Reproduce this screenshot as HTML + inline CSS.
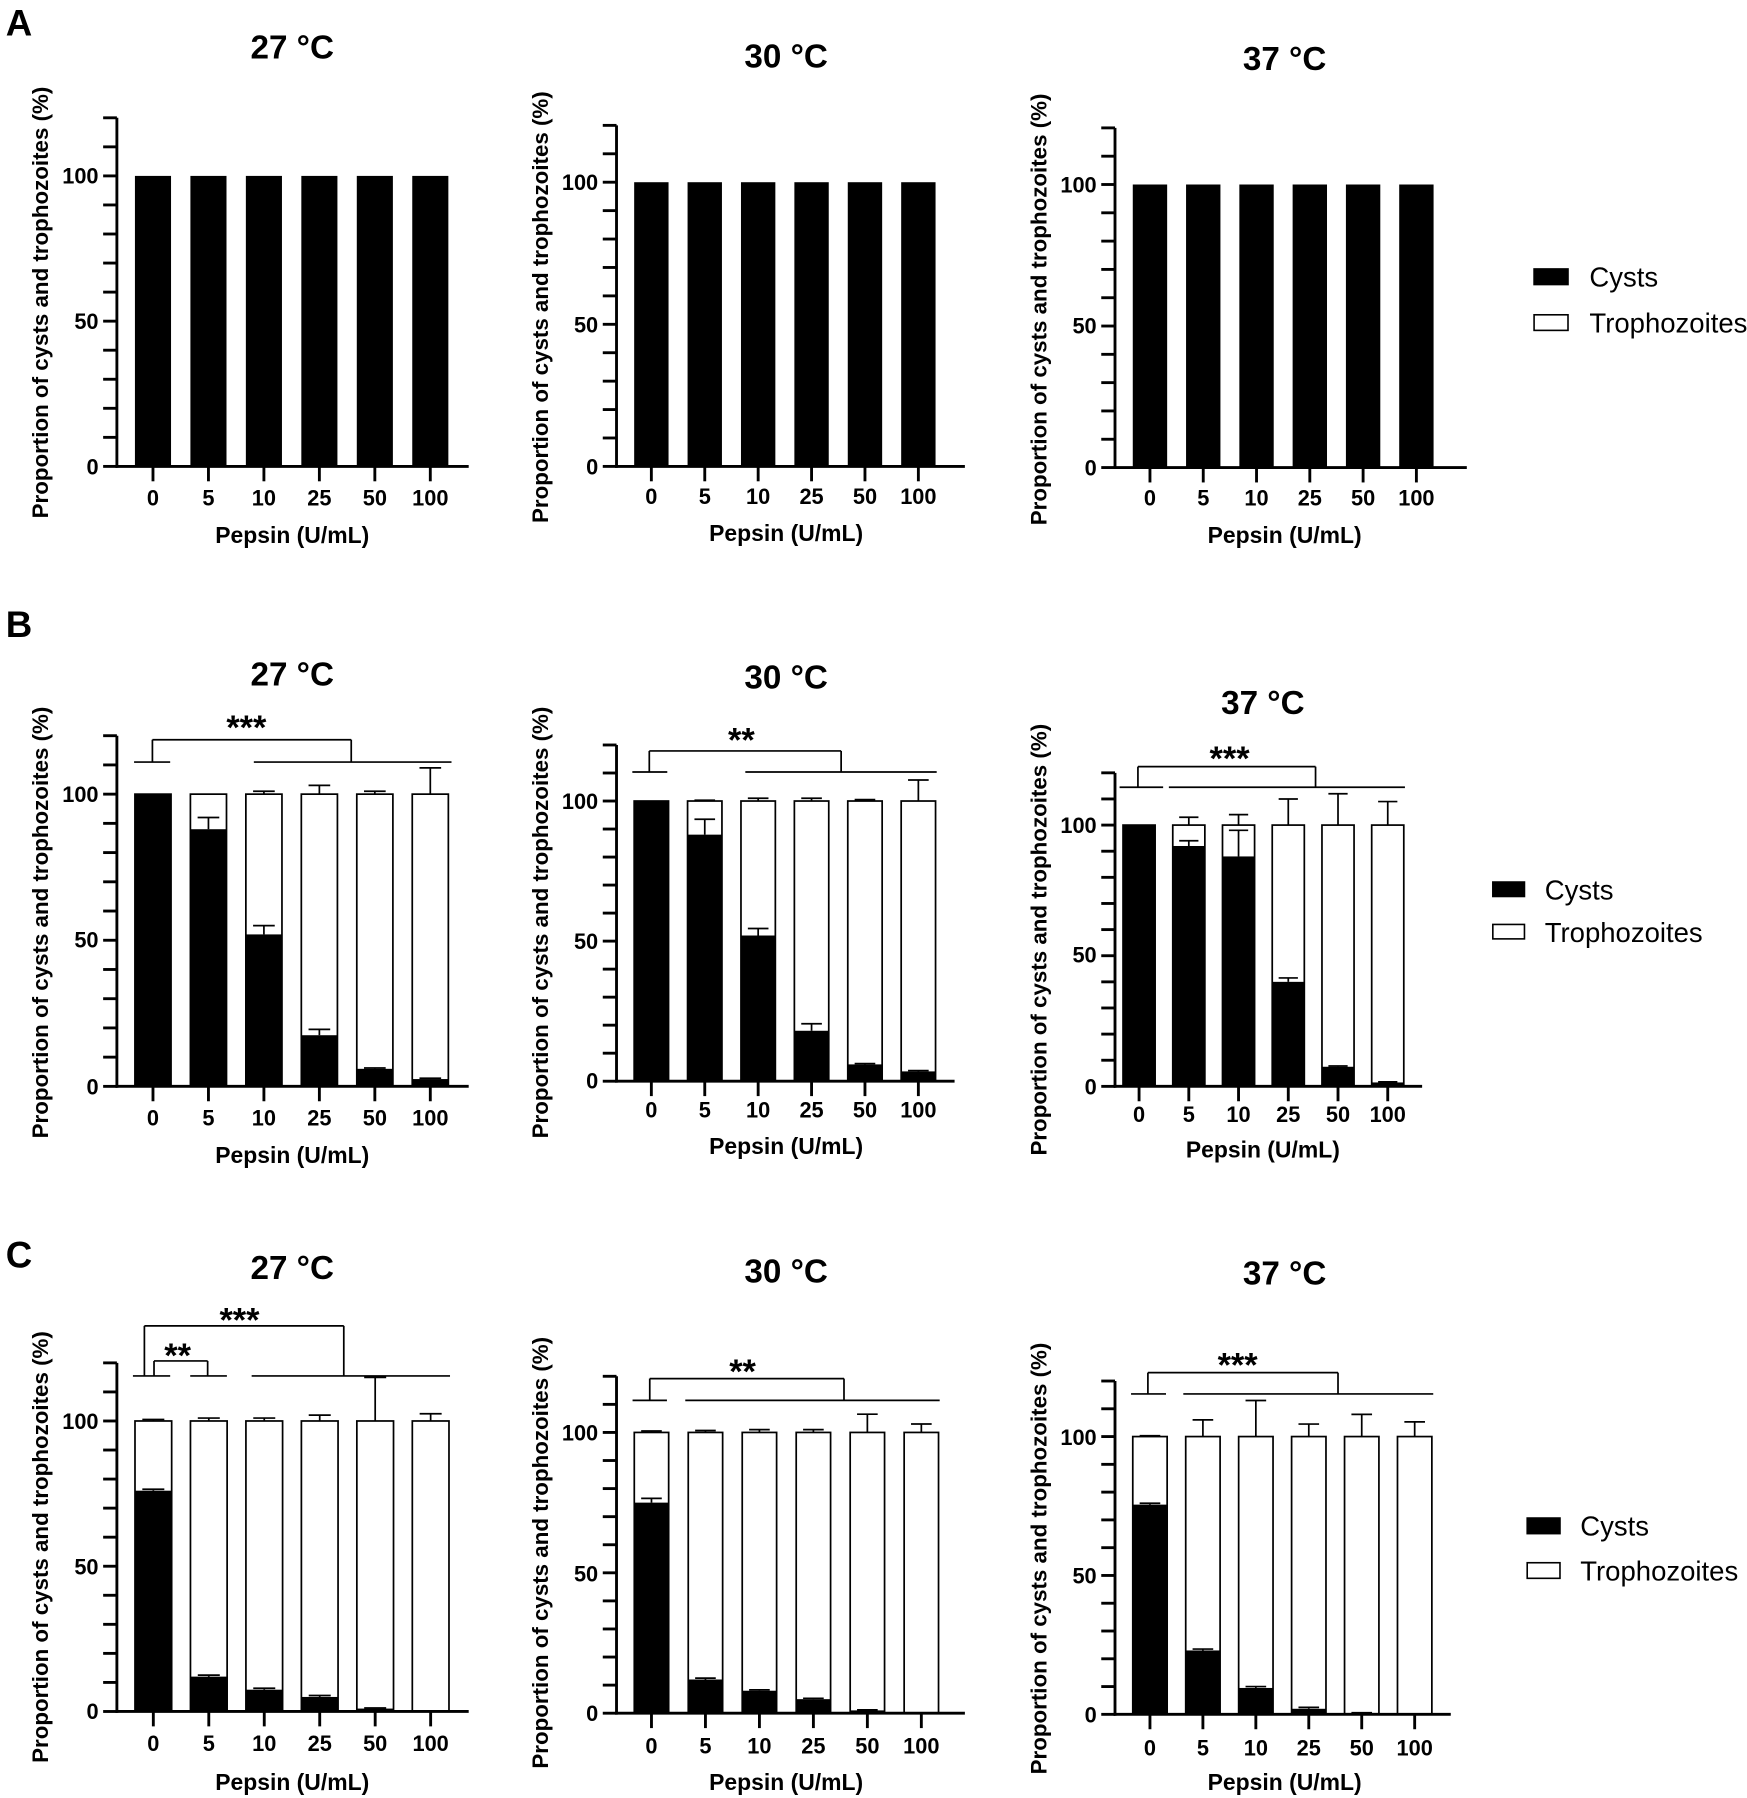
<!DOCTYPE html>
<html><head><meta charset="utf-8"><style>
html,body{margin:0;padding:0;background:#fff}
svg{display:block}
text{font-family:"Liberation Sans",Arial,sans-serif;fill:#000}
.t{font-size:29px;font-weight:bold;text-anchor:middle}
.xl{font-size:20px;font-weight:bold;text-anchor:middle}
.tk{font-size:19px;font-weight:bold;text-anchor:middle}
.yt{font-size:19px;font-weight:bold;text-anchor:end}
.yl{font-size:19.5px;font-weight:bold;text-anchor:middle}
.lg{font-size:24px}
.pl{font-size:32px;font-weight:bold}
.st{font-size:30px;font-weight:bold;text-anchor:middle}
</style></head><body>
<svg id="s" width="1747" height="1798" viewBox="0 0 1524.5 1569" xmlns="http://www.w3.org/2000/svg">
<g id="g"></g>
<text class="pl" x="5" y="31">A</text>
<text class="pl" x="5" y="556">B</text>
<text class="pl" x="5" y="1106">C</text>

<text class="t" x="255" y="51">27 °C</text>
<text class="t" x="686" y="59">30 °C</text>
<text class="t" x="1121" y="61">37 °C</text>
<text class="t" x="255" y="598">27 °C</text>
<text class="t" x="686" y="601">30 °C</text>
<text class="t" x="1102" y="623">37 °C</text>
<text class="t" x="255" y="1116">27 °C</text>
<text class="t" x="686" y="1119">30 °C</text>
<text class="t" x="1121" y="1121">37 °C</text>

<text class="xl" x="255" y="474">Pepsin (U/mL)</text>
<text class="xl" x="686" y="472">Pepsin (U/mL)</text>
<text class="xl" x="1121" y="474">Pepsin (U/mL)</text>
<text class="xl" x="255" y="1015">Pepsin (U/mL)</text>
<text class="xl" x="686" y="1007">Pepsin (U/mL)</text>
<text class="xl" x="1102" y="1010">Pepsin (U/mL)</text>
<text class="xl" x="255" y="1562">Pepsin (U/mL)</text>
<text class="xl" x="686" y="1562">Pepsin (U/mL)</text>
<text class="xl" x="1121" y="1562">Pepsin (U/mL)</text>

<text class="tk" y="441"><tspan x="133.5">0</tspan><tspan x="181.9">5</tspan><tspan x="230.3">10</tspan><tspan x="278.7">25</tspan><tspan x="327.1">50</tspan><tspan x="375.5">100</tspan></text>
<text class="tk" y="440"><tspan x="568.4">0</tspan><tspan x="615">5</tspan><tspan x="661.6">10</tspan><tspan x="708.2">25</tspan><tspan x="754.8">50</tspan><tspan x="801.4">100</tspan></text>
<text class="tk" y="441"><tspan x="1003.5">0</tspan><tspan x="1050">5</tspan><tspan x="1096.5">10</tspan><tspan x="1143">25</tspan><tspan x="1189.5">50</tspan><tspan x="1236">100</tspan></text>
<text class="tk" y="982"><tspan x="133.5">0</tspan><tspan x="181.9">5</tspan><tspan x="230.3">10</tspan><tspan x="278.7">25</tspan><tspan x="327.1">50</tspan><tspan x="375.5">100</tspan></text>
<text class="tk" y="975"><tspan x="568.4">0</tspan><tspan x="615">5</tspan><tspan x="661.6">10</tspan><tspan x="708.2">25</tspan><tspan x="754.8">50</tspan><tspan x="801.4">100</tspan></text>
<text class="tk" y="979"><tspan x="994">0</tspan><tspan x="1037.4">5</tspan><tspan x="1080.8">10</tspan><tspan x="1124.2">25</tspan><tspan x="1167.6">50</tspan><tspan x="1211">100</tspan></text>
<text class="tk" y="1528"><tspan x="133.8">0</tspan><tspan x="182.2">5</tspan><tspan x="230.6">10</tspan><tspan x="279">25</tspan><tspan x="327.4">50</tspan><tspan x="375.8">100</tspan></text>
<text class="tk" y="1530"><tspan x="568.5">0</tspan><tspan x="615.6">5</tspan><tspan x="662.7">10</tspan><tspan x="709.8">25</tspan><tspan x="756.9">50</tspan><tspan x="804">100</tspan></text>
<text class="tk" y="1532"><tspan x="1003.5">0</tspan><tspan x="1049.7">5</tspan><tspan x="1095.9">10</tspan><tspan x="1142.1">25</tspan><tspan x="1188.3">50</tspan><tspan x="1234.5">100</tspan></text>

<text class="yt" x="86" y="414">0</text><text class="yt" x="86" y="287">50</text><text class="yt" x="86" y="160">100</text>
<text class="yt" x="522" y="414">0</text><text class="yt" x="522" y="290">50</text><text class="yt" x="522" y="166">100</text>
<text class="yt" x="957" y="415">0</text><text class="yt" x="957" y="291">50</text><text class="yt" x="957" y="168">100</text>
<text class="yt" x="86" y="955">0</text><text class="yt" x="86" y="827">50</text><text class="yt" x="86" y="700">100</text>
<text class="yt" x="522" y="950">0</text><text class="yt" x="522" y="828">50</text><text class="yt" x="522" y="706">100</text>
<text class="yt" x="957" y="955">0</text><text class="yt" x="957" y="840">50</text><text class="yt" x="957" y="727">100</text>
<text class="yt" x="86" y="1500">0</text><text class="yt" x="86" y="1374">50</text><text class="yt" x="86" y="1247">100</text>
<text class="yt" x="522" y="1502">0</text><text class="yt" x="522" y="1380">50</text><text class="yt" x="522" y="1257">100</text>
<text class="yt" x="957" y="1503">0</text><text class="yt" x="957" y="1382">50</text><text class="yt" x="957" y="1261">100</text>

<text class="yl" transform="translate(42,264) rotate(-90)">Proportion of cysts and trophozoites (%)</text>
<text class="yl" transform="translate(478,268) rotate(-90)">Proportion of cysts and trophozoites (%)</text>
<text class="yl" transform="translate(913,270) rotate(-90)">Proportion of cysts and trophozoites (%)</text>
<text class="yl" transform="translate(42,805) rotate(-90)">Proportion of cysts and trophozoites (%)</text>
<text class="yl" transform="translate(478,805) rotate(-90)">Proportion of cysts and trophozoites (%)</text>
<text class="yl" transform="translate(913,820) rotate(-90)">Proportion of cysts and trophozoites (%)</text>
<text class="yl" transform="translate(42,1350) rotate(-90)">Proportion of cysts and trophozoites (%)</text>
<text class="yl" transform="translate(478,1355) rotate(-90)">Proportion of cysts and trophozoites (%)</text>
<text class="yl" transform="translate(913,1360) rotate(-90)">Proportion of cysts and trophozoites (%)</text>

<text class="st" x="215" y="645">***</text>
<text class="st" x="647" y="656">**</text>
<text class="st" x="1073" y="672">***</text>
<text class="st" x="209" y="1162">***</text>
<text class="st" x="155" y="1193">**</text>
<text class="st" x="648" y="1207">**</text>
<text class="st" x="1080" y="1201">***</text>

<rect x="1338" y="234" width="31" height="15" fill="#000"/>
<rect x="1338.7" y="274.7" width="29.6" height="13.6" fill="#fff" stroke="#000" stroke-width="1.4"/>
<text class="lg" x="1387" y="250">Cysts</text>
<text class="lg" x="1387" y="290">Trophozoites</text>
<rect x="1302" y="769" width="29" height="14" fill="#000"/>
<rect x="1302.7" y="806.7" width="27.6" height="12.6" fill="#fff" stroke="#000" stroke-width="1.4"/>
<text class="lg" x="1348" y="785">Cysts</text>
<text class="lg" x="1348" y="822">Trophozoites</text>
<rect x="1332" y="1324" width="30" height="15" fill="#000"/>
<rect x="1332.7" y="1363.7" width="28.6" height="13.6" fill="#fff" stroke="#000" stroke-width="1.4"/>
<text class="lg" x="1379" y="1340">Cysts</text>
<text class="lg" x="1379" y="1379">Trophozoites</text>
</svg>
<script>
var g=document.getElementById('g'),NS='http://www.w3.org/2000/svg';
function el(t,a){var e=document.createElementNS(NS,t);for(var k in a)e.setAttribute(k,a[k]);g.appendChild(e);return e;}
function ln(x1,y1,x2,y2,w){el('line',{x1:x1,y1:y1,x2:x2,y2:y2,stroke:'#000','stroke-width':w||1.5});}
var P=[
{ax:102,y0:407,y100:153.5,xe:409,c0:133.5,sp:48.4,bw:31.5,cy:[100,100,100,100,100,100],st:0},
{ax:538,y0:407,y100:159,xe:842,c0:568.4,sp:46.6,bw:30,cy:[100,100,100,100,100,100],st:0},
{ax:973,y0:408,y100:161,xe:1280,c0:1003.5,sp:46.5,bw:30,cy:[100,100,100,100,100,100],st:0},
{ax:102,y0:948,y100:693,xe:409,c0:133.5,sp:48.4,bw:31.5,cy:[100,88,52,17.5,6,2.5],ce:[0,92,55,19.5,6.3,2.8],te:[0,100.2,101,103,101,109],st:1},
{ax:538,y0:943.5,y100:699,xe:833,c0:568.4,sp:46.6,bw:30,cy:[100,88,52,18,6,3.5],ce:[0,93.5,54.5,20.5,6.3,3.8],te:[0,100.3,101,101,100.5,107.5],st:1},
{ax:973,y0:948,y100:720,xe:1241,c0:994,sp:43.4,bw:28,cy:[100,92,88,40,7.5,1.5],ce:[0,94,98,41.5,7.8,1.7],te:[0,103,104,110,112,109],st:1},
{ax:102,y0:1493.5,y100:1240,xe:409,c0:133.8,sp:48.4,bw:32,cy:[76,12,7.5,5,1,0.3],ce:[76.5,12.5,8,5.5,1.2,0.3],te:[100.5,101,101,102,115,102.5],st:1},
{ax:538,y0:1495,y100:1250,xe:842,c0:568.5,sp:47.1,bw:30,cy:[75,12,8,5,1,0.3],ce:[76.5,12.5,8.3,5.3,1.2,0.3],te:[100.5,100.7,101,101,106.5,103],st:1},
{ax:973,y0:1496,y100:1253.6,xe:1266,c0:1003.5,sp:46.2,bw:30,cy:[75.5,23,9.5,2,0.5,0.2],ce:[76,23.5,10,2.5,0.6,0.2],te:[100.3,106,113,104.5,108,105.3],st:1}
];
P.forEach(function(p){
 var s=(p.y0-p.y100)/100, Y=function(v){return p.y0-v*s;};
 for(var i=0;i<6;i++){
  var c=p.c0+i*p.sp,x=c-p.bw/2,cw=p.bw*0.3;
  if(p.st){
   el('rect',{x:x,y:Y(100),width:p.bw,height:100*s,fill:'#fff',stroke:'#000','stroke-width':1.5});
   if(p.te[i]>100.2){ln(c,Y(100),c,Y(p.te[i]));ln(c-cw,Y(p.te[i]),c+cw,Y(p.te[i]));}
  }
  el('rect',{x:x,y:Y(p.cy[i]),width:p.bw,height:p.cy[i]*s,fill:'#000'});
  if(p.st && p.ce[i]>p.cy[i]){ln(c,Y(p.cy[i]),c,Y(p.ce[i]));ln(c-cw,Y(p.ce[i]),c+cw,Y(p.ce[i]));}
  ln(c,p.y0,c,p.y0+13,2.5);
 }
 var top=Y(120);
 ln(p.ax,top,p.ax,p.y0+1.2,2.5);
 ln(p.ax-1.2,p.y0,p.xe,p.y0,2.5);
 for(var v=0;v<=120;v+=10) ln(p.ax-12,Y(v),p.ax,Y(v),2.5);
});
function br(xl,xr,yt,yb){ln(xl,yt,xr,yt);ln(xl,yt,xl,yb);ln(xr,yt,xr,yb);}
br(133,306.5,645.5,665);ln(117,665,148.5,665);ln(221.5,665,394,665);
br(566.6,734,655.3,673.7);ln(551.8,673.7,582.3,673.7);ln(650.4,673.7,817.4,673.7);
br(993,1148,669,687);ln(977,687,1015,687);ln(1020,687,1226,687);
br(126,300,1157,1200.7);br(134.4,181.2,1187.6,1200.7);
ln(116,1200.7,148.5,1200.7);ln(166,1200.7,198,1200.7);ln(219.6,1200.7,392.7,1200.7);
br(567,736.5,1203,1222);ln(552,1222,582,1222);ln(598,1222,820,1222);
br(1001.7,1167.6,1197.8,1216.4);ln(987,1216.4,1017.5,1216.4);ln(1032.6,1216.4,1250.7,1216.4);
</script>
</body></html>
